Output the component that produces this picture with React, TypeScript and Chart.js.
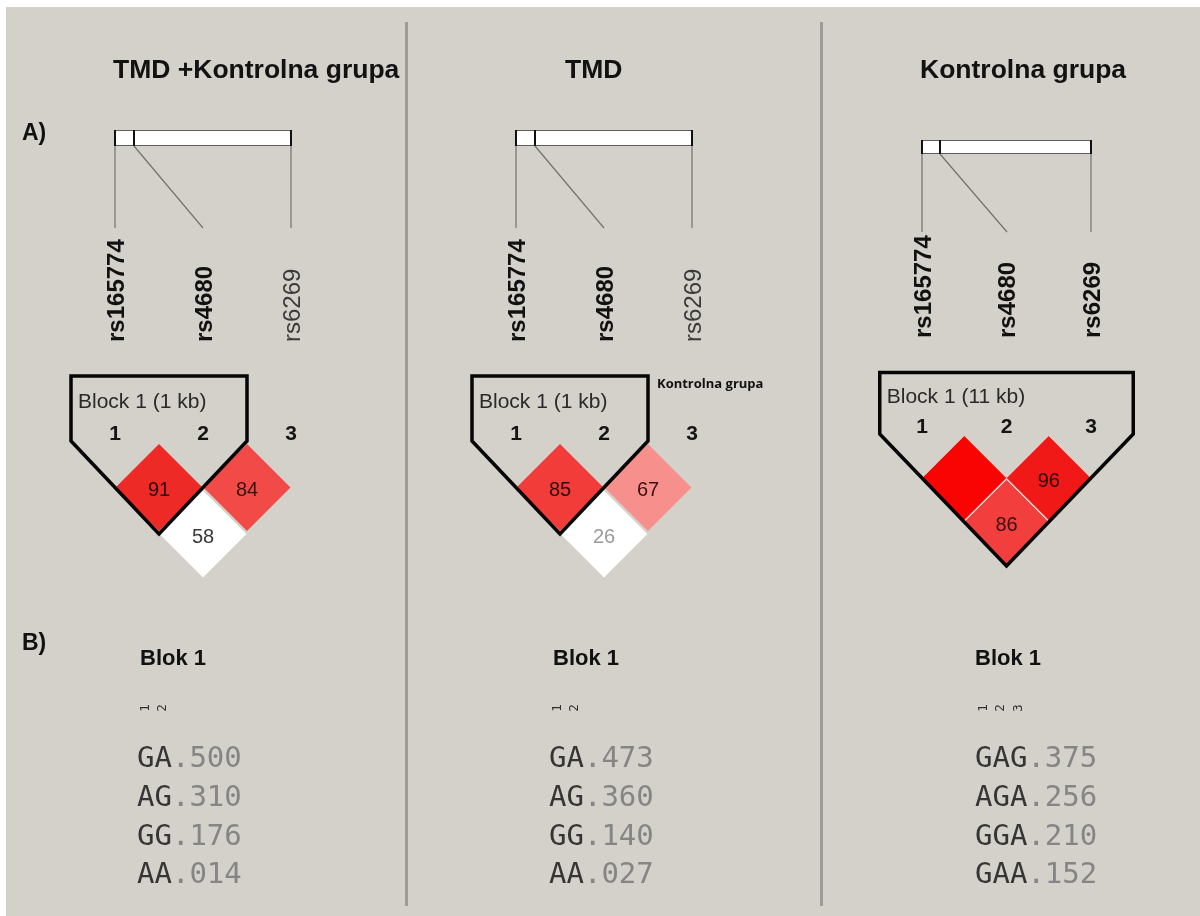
import React, { useEffect, useRef } from 'react';
import { Chart, registerables } from 'chart.js';

Chart.register(...registerables);

const W = 1200;
const H = 916;

// ---- markers ----
const markerNames = ['rs165774', 'rs4680', 'rs6269'];
const markerKb = [0, 1.2, 11.0];
const markerNumbers = ['1', '2', '3'];

// LD cell order: (1,2), (2,3), (1,3)
const pairFirst = [1, 2, 1];
const pairSecond = [2, 3, 3];

const panelTitles = ['TMD +Kontrolna grupa', 'TMD', 'Kontrolna grupa'];
const panelNotes = ['', 'Kontrolna grupa', ''];

// D' x 100 for each pair
const dPrimeAll = [91, 84, 58];
const dPrimeTmd = [85, 67, 26];
const dPrimeCtrl = [100, 96, 86];

// haplotype blocks
const blockStart = [1, 1, 1];
const blockEnd = [2, 2, 3];
const blockSizes = ['1 kb', '1 kb', '11 kb'];
const blockName = 'Blok 1';

// haplotypes and their frequencies
const hapsAll = ['GA', 'AG', 'GG', 'AA'];
const freqAll = [0.5, 0.31, 0.176, 0.014];
const hapsTmd = ['GA', 'AG', 'GG', 'AA'];
const freqTmd = [0.473, 0.36, 0.14, 0.027];
const hapsCtrl = ['GAG', 'AGA', 'GGA', 'GAA'];
const freqCtrl = [0.375, 0.256, 0.21, 0.152];

// ---- cell styling ----
const cellFillAll = ['#ee2a27', '#f24a47', '#ffffff'];
const cellFillTmd = ['#f13c3a', '#f78f8d', '#ffffff'];
const cellFillCtrl = ['#fa0303', '#f11818', '#f23f3e'];
const cellInkAll = ['#2a0c0c', '#3a1010', '#383838'];
const cellInkTmd = ['#2a0c0c', '#3a1212', '#9a9a9a'];
const cellInkCtrl = ['#2a0c0c', '#2e0808', '#3a0e0e'];

// ---- panel layout (pixels) ----
const layouts = [
  { m1: 115, unit: 88, row0: 441, rowPx: 46.5, radius: 43.5, cellBorder: 0, barTop: 130, barBottom: 146, lineEnd: 228, labelBase: 342, titleX: 113, tableX: 137, blokX: 140 },
  { m1: 516, unit: 88, row0: 441, rowPx: 46.5, radius: 43.5, cellBorder: 0, barTop: 130, barBottom: 146, lineEnd: 228, labelBase: 342, titleX: 565, tableX: 549, blokX: 553 },
  { m1: 922, unit: 84.5, row0: 434, rowPx: 44, radius: 42.5, cellBorder: 1, barTop: 140, barBottom: 154, lineEnd: 232, labelBase: 338, titleX: 920, tableX: 975, blokX: 975 },
];

const panels = [
  { title: panelTitles[0], note: panelNotes[0], dprime: dPrimeAll, fills: cellFillAll, inks: cellInkAll, haps: hapsAll, freqs: freqAll, a: blockStart[0], b: blockEnd[0], size: blockSizes[0], L: layouts[0] },
  { title: panelTitles[1], note: panelNotes[1], dprime: dPrimeTmd, fills: cellFillTmd, inks: cellInkTmd, haps: hapsTmd, freqs: freqTmd, a: blockStart[1], b: blockEnd[1], size: blockSizes[1], L: layouts[1] },
  { title: panelTitles[2], note: panelNotes[2], dprime: dPrimeCtrl, fills: cellFillCtrl, inks: cellInkCtrl, haps: hapsCtrl, freqs: freqCtrl, a: blockStart[2], b: blockEnd[2], size: blockSizes[2], L: layouts[2] },
];

const SANS = '"Liberation Sans", Arial, sans-serif';
const MONO = '"DejaVu Sans Mono", monospace';
const BLOCK_TOP = -1.4;

function fmtFreq(f: number) {
  return '.' + String(Math.round(f * 1000)).padStart(3, '0');
}

function drawPanelBack(chart: any, p: any, i: number) {
  const ctx: CanvasRenderingContext2D = chart.ctx;
  const xs = chart.scales['x' + i];
  const ys = chart.scales['y' + i];
  const L = p.L;
  const px = (m: number) => xs.getPixelForValue(m);
  const py = (r: number) => ys.getPixelForValue(r);
  const n = markerNames.length;

  ctx.save();
  // title
  ctx.fillStyle = '#121212';
  ctx.font = `bold 26.5px ${SANS}`;
  ctx.textAlign = 'left';
  ctx.textBaseline = 'alphabetic';
  ctx.fillText(p.title, L.titleX, 78);

  // physical map bar
  const x1 = px(1);
  const xN = px(n);
  const kb0 = markerKb[0];
  const kbN = markerKb[n - 1];
  const kbX = (kb: number) => x1 + ((kb - kb0) / (kbN - kb0)) * (xN - x1);
  ctx.fillStyle = '#ffffff';
  ctx.fillRect(x1, L.barTop, xN - x1, L.barBottom - L.barTop);
  ctx.strokeStyle = '#5e5e5e';
  ctx.lineWidth = 1;
  ctx.strokeRect(x1 + 0.5, L.barTop + 0.5, xN - x1 - 1, L.barBottom - L.barTop - 1);
  ctx.strokeStyle = '#111111';
  ctx.lineWidth = 2;
  ctx.beginPath();
  markerKb.forEach((kb) => {
    const x = Math.round(kbX(kb));
    ctx.moveTo(x, L.barTop);
    ctx.lineTo(x, L.barBottom);
  });
  ctx.stroke();

  // connectors from map to marker names
  ctx.strokeStyle = '#727272';
  ctx.lineWidth = 1.2;
  ctx.beginPath();
  markerKb.forEach((kb, k) => {
    ctx.moveTo(Math.round(kbX(kb)), L.barBottom);
    ctx.lineTo(Math.round(px(k + 1)), L.lineEnd);
  });
  ctx.stroke();

  // marker names (vertical)
  markerNames.forEach((name, k) => {
    const inBlock = k + 1 >= p.a && k + 1 <= p.b;
    const size = 24;
    ctx.save();
    ctx.translate(px(k + 1), L.labelBase);
    ctx.rotate(-Math.PI / 2);
    ctx.font = `${inBlock ? 'bold ' : ''}${size}px ${SANS}`;
    ctx.fillStyle = inBlock ? '#111111' : '#3a3a3a';
    ctx.textAlign = 'left';
    ctx.textBaseline = 'alphabetic';
    ctx.fillText(name, 0, size * 0.36);
    ctx.restore();
  });

  // marker numbers above the LD cells
  ctx.font = `bold 21px ${SANS}`;
  ctx.fillStyle = '#141414';
  ctx.textAlign = 'center';
  markerNumbers.forEach((num, k) => {
    ctx.fillText(num, px(k + 1), py(0) - 1);
  });

  // block caption
  ctx.font = `21px ${SANS}`;
  ctx.fillStyle = '#2a2a2a';
  ctx.textAlign = 'left';
  ctx.fillText(`Block 1 (${p.size})`, px(p.a - 0.5) + 7, py(-0.71));

  if (p.note) {
    ctx.font = `bold 13px "Open Sans", ${SANS}`;
    ctx.fillStyle = '#111111';
    ctx.fillText(p.note, px(p.b + 0.5) + 9, py(BLOCK_TOP) + 12);
  }
  ctx.restore();
}

function drawPanelFront(chart: any, p: any, i: number) {
  const ctx: CanvasRenderingContext2D = chart.ctx;
  const meta = chart.getDatasetMeta(i * 2);
  ctx.save();
  // D' values in the cells
  ctx.font = `20px ${SANS}`;
  ctx.textAlign = 'center';
  ctx.textBaseline = 'middle';
  meta.data.forEach((pt: any, k: number) => {
    const d = p.dprime[k];
    if (d >= 100) return;
    ctx.fillStyle = p.inks[k];
    ctx.fillText(String(d), pt.x, pt.y + 3);
  });

  // haplotype table
  const L = p.L;
  ctx.textBaseline = 'alphabetic';
  ctx.textAlign = 'left';
  ctx.font = `bold 22px ${SANS}`;
  ctx.fillStyle = '#111111';
  ctx.fillText(blockName, L.blokX, 665);

  ctx.font = `29px ${MONO}`;
  const adv = ctx.measureText('G').width;

  // column numbers
  ctx.font = `12.5px ${MONO}`;
  ctx.fillStyle = '#303030';
  for (let m = p.a; m <= p.b; m++) {
    ctx.save();
    ctx.translate(L.tableX + (m - p.a + 0.5) * adv, 708);
    ctx.rotate(-Math.PI / 2);
    ctx.textAlign = 'center';
    ctx.textBaseline = 'middle';
    ctx.fillText(markerNumbers[m - 1], 0, 0);
    ctx.restore();
  }

  ctx.font = `29px ${MONO}`;
  p.haps.forEach((h: string, r: number) => {
    const y = 767 + r * 38.8;
    ctx.fillStyle = '#353535';
    ctx.fillText(h, L.tableX, y);
    ctx.fillStyle = '#858585';
    ctx.fillText(fmtFreq(p.freqs[r]), L.tableX + h.length * adv, y);
  });
  ctx.restore();
}

const decorPlugin = {
  id: 'ldDecor',
  beforeDraw(chart: any) {
    const ctx: CanvasRenderingContext2D = chart.ctx;
    ctx.save();
    ctx.fillStyle = '#ffffff';
    ctx.fillRect(0, 0, W, H);
    ctx.fillStyle = '#d4d0ca';
    ctx.fillRect(6, 7, W - 6, H - 7);
    // panel separators
    ctx.fillStyle = '#9d9c9a';
    ctx.fillRect(405, 22, 3, 884);
    ctx.fillRect(820, 22, 3, 884);
    // section letters
    ctx.fillStyle = '#111111';
    ctx.font = `bold 23px ${SANS}`;
    ctx.textAlign = 'left';
    ctx.textBaseline = 'alphabetic';
    ctx.fillText('A)', 22, 140);
    ctx.fillText('B)', 22, 650);
    ctx.restore();
    panels.forEach((p, i) => drawPanelBack(chart, p, i));
  },
  afterDatasetsDraw(chart: any) {
    panels.forEach((p, i) => drawPanelFront(chart, p, i));
  },
};

function buildConfig(): any {
  const datasets: any[] = [];
  const scales: any = {};
  panels.forEach((p, i) => {
    const L = p.L;
    scales['x' + i] = {
      type: 'linear', display: false, bounds: 'data', position: 'bottom',
      min: 1 - L.m1 / L.unit, max: 1 + (W - L.m1) / L.unit,
    };
    scales['y' + i] = {
      type: 'linear', display: false, bounds: 'data', reverse: true, position: 'left',
      min: -L.row0 / L.rowPx, max: (H - L.row0) / L.rowPx,
    };
    datasets.push({
      label: 'cells ' + i,
      xAxisID: 'x' + i,
      yAxisID: 'y' + i,
      data: pairFirst.map((f, k) => ({ x: (f + pairSecond[k]) / 2, y: pairSecond[k] - f })),
      pointStyle: 'rectRot',
      pointRadius: L.radius,
      pointBackgroundColor: p.fills,
      pointBorderColor: '#f7d2cc',
      pointBorderWidth: L.cellBorder,
      showLine: false,
      clip: false,
      order: 2,
    });
    const a = p.a;
    const b = p.b;
    datasets.push({
      label: 'block ' + i,
      xAxisID: 'x' + i,
      yAxisID: 'y' + i,
      data: [
        { x: (a + b) / 2, y: BLOCK_TOP },
        { x: b + 0.5, y: BLOCK_TOP },
        { x: b + 0.5, y: 0 },
        { x: (a + b) / 2, y: b - a + 1 },
        { x: a - 0.5, y: 0 },
        { x: a - 0.5, y: BLOCK_TOP },
        { x: (a + b) / 2, y: BLOCK_TOP },
      ],
      showLine: true,
      borderColor: '#050505',
      borderWidth: 3.5,
      borderJoinStyle: 'miter',
      pointRadius: 0,
      fill: false,
      tension: 0,
      clip: false,
      order: 1,
    });
  });
  return {
    type: 'scatter',
    data: { datasets },
    options: {
      animation: false,
      responsive: false,
      maintainAspectRatio: false,
      events: [],
      layout: { padding: 0, autoPadding: false },
      plugins: { legend: { display: false }, tooltip: { enabled: false }, title: { display: false } },
      scales,
    },
    plugins: [decorPlugin],
  };
}

export default function App() {
  const ref = useRef<HTMLCanvasElement>(null);
  useEffect(() => {
    if (!ref.current) return;
    const chart = new Chart(ref.current, buildConfig());
    return () => chart.destroy();
  }, []);
  return (
    <div style={{ position: 'absolute', left: 0, top: 0, width: W, height: H }}>
      <canvas ref={ref} width={W} height={H} style={{ display: 'block', width: W, height: H }} />
    </div>
  );
}
